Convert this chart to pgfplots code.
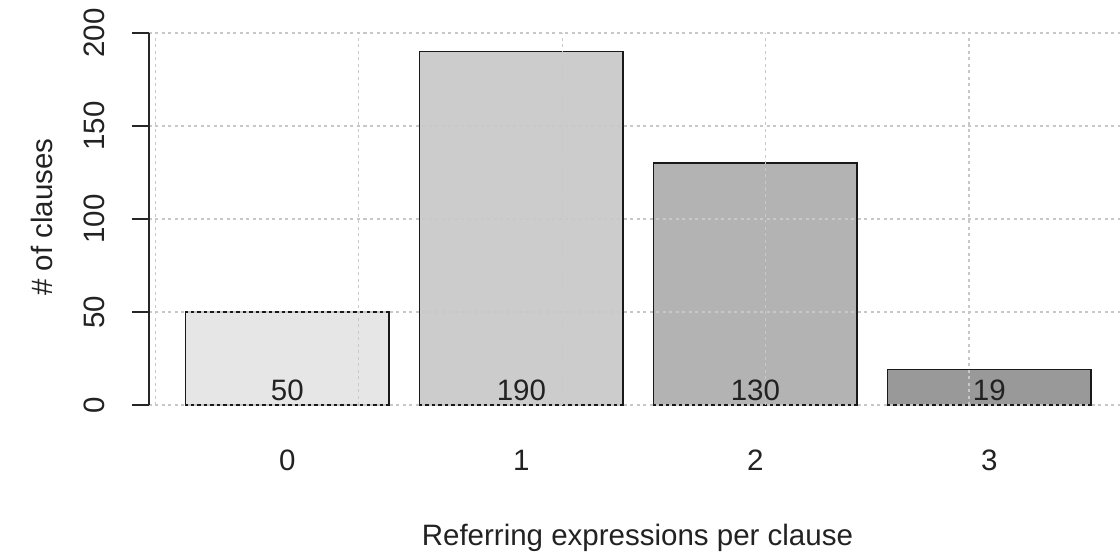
\documentclass[border=0pt]{standalone}
\usepackage{fontspec}
\setmainfont{Liberation Sans}
\usepackage{pgfplots}
\pgfplotsset{compat=1.18}
\definecolor{ga}{HTML}{E6E6E6}
\definecolor{gb}{HTML}{CCCCCC}
\definecolor{gc}{HTML}{B3B3B3}
\definecolor{gd}{HTML}{999999}
\definecolor{gridc}{HTML}{C8C8C8}
\definecolor{txt}{HTML}{222222}
\newcommand{\bigfont}{\fontsize{29.5bp}{35bp}\selectfont}
\begin{document}
\begin{tikzpicture}
\useasboundingbox (-149bp,-149bp) rectangle (971bp,405bp);
\begin{axis}[
  at={(0,0)}, anchor=south west, scale only axis,
  width=971bp, height=372bp,
  xmin=-0.03, xmax=4.742, ymin=0, ymax=200,
  axis y line*=left, axis x line*=bottom,
  x axis line style={draw=none},
  y axis line style={black!85, line width=1.4bp},
  xtick={0.65,1.8,2.95,4.1}, xticklabels={0,1,2,3},
  minor xtick={0,1,2,3,4},
  ytick={0,50,100,150,200},
  tick align=outside, major tick length=17bp,
  xtick style={draw=none}, minor x tick style={draw=none},
  ytick style={black!85, line width=1.4bp},
  xmajorgrids=false, xminorgrids=true, ymajorgrids=true,
  major grid style={color=gridc, line width=1.1bp, dash pattern=on 3bp off 3.5bp},
  minor grid style={color=gridc, line width=1.1bp, dash pattern=on 3bp off 3.5bp},
  axis on top,
  /pgf/number format/assume math mode=true,
  tick label style={font=\bigfont, inner sep=0pt, text=txt},
  xticklabel style={anchor=north}, xticklabel shift=28bp,
  yticklabel style={rotate=90, anchor=south}, yticklabel shift=27bp,
  xlabel={Referring expressions per clause}, ylabel={\# of clauses},
  every axis x label/.style={at={(axis description cs:0.503,-0.378)}, anchor=base, font=\bigfont, text=txt, inner sep=0pt},
  every axis y label/.style={at={(axis description cs:-0.0989,0.505)}, rotate=90, anchor=base, font=\bigfont, text=txt, inner sep=0pt},
]
\addplot[ybar, bar width=1, bar shift=0pt, fill=ga, draw=black!90, line width=1.6bp] coordinates {(0.65,50)};
\addplot[ybar, bar width=1, bar shift=0pt, fill=gb, draw=black!90, line width=1.6bp] coordinates {(1.8,190)};
\addplot[ybar, bar width=1, bar shift=0pt, fill=gc, draw=black!90, line width=1.6bp] coordinates {(2.95,130)};
\addplot[ybar, bar width=1, bar shift=0pt, fill=gd, draw=black!90, line width=1.6bp] coordinates {(4.1,19)};
\addplot[draw=none, mark=none, nodes near coords, point meta=explicit,
  every node near coord/.style={anchor=base, yshift=5bp, font=\bigfont, text=txt, inner sep=0pt}]
  coordinates {(0.65,0) [50] (1.8,0) [190] (2.95,0) [130] (4.1,0) [19]};
\end{axis}
\end{tikzpicture}
\end{document}
